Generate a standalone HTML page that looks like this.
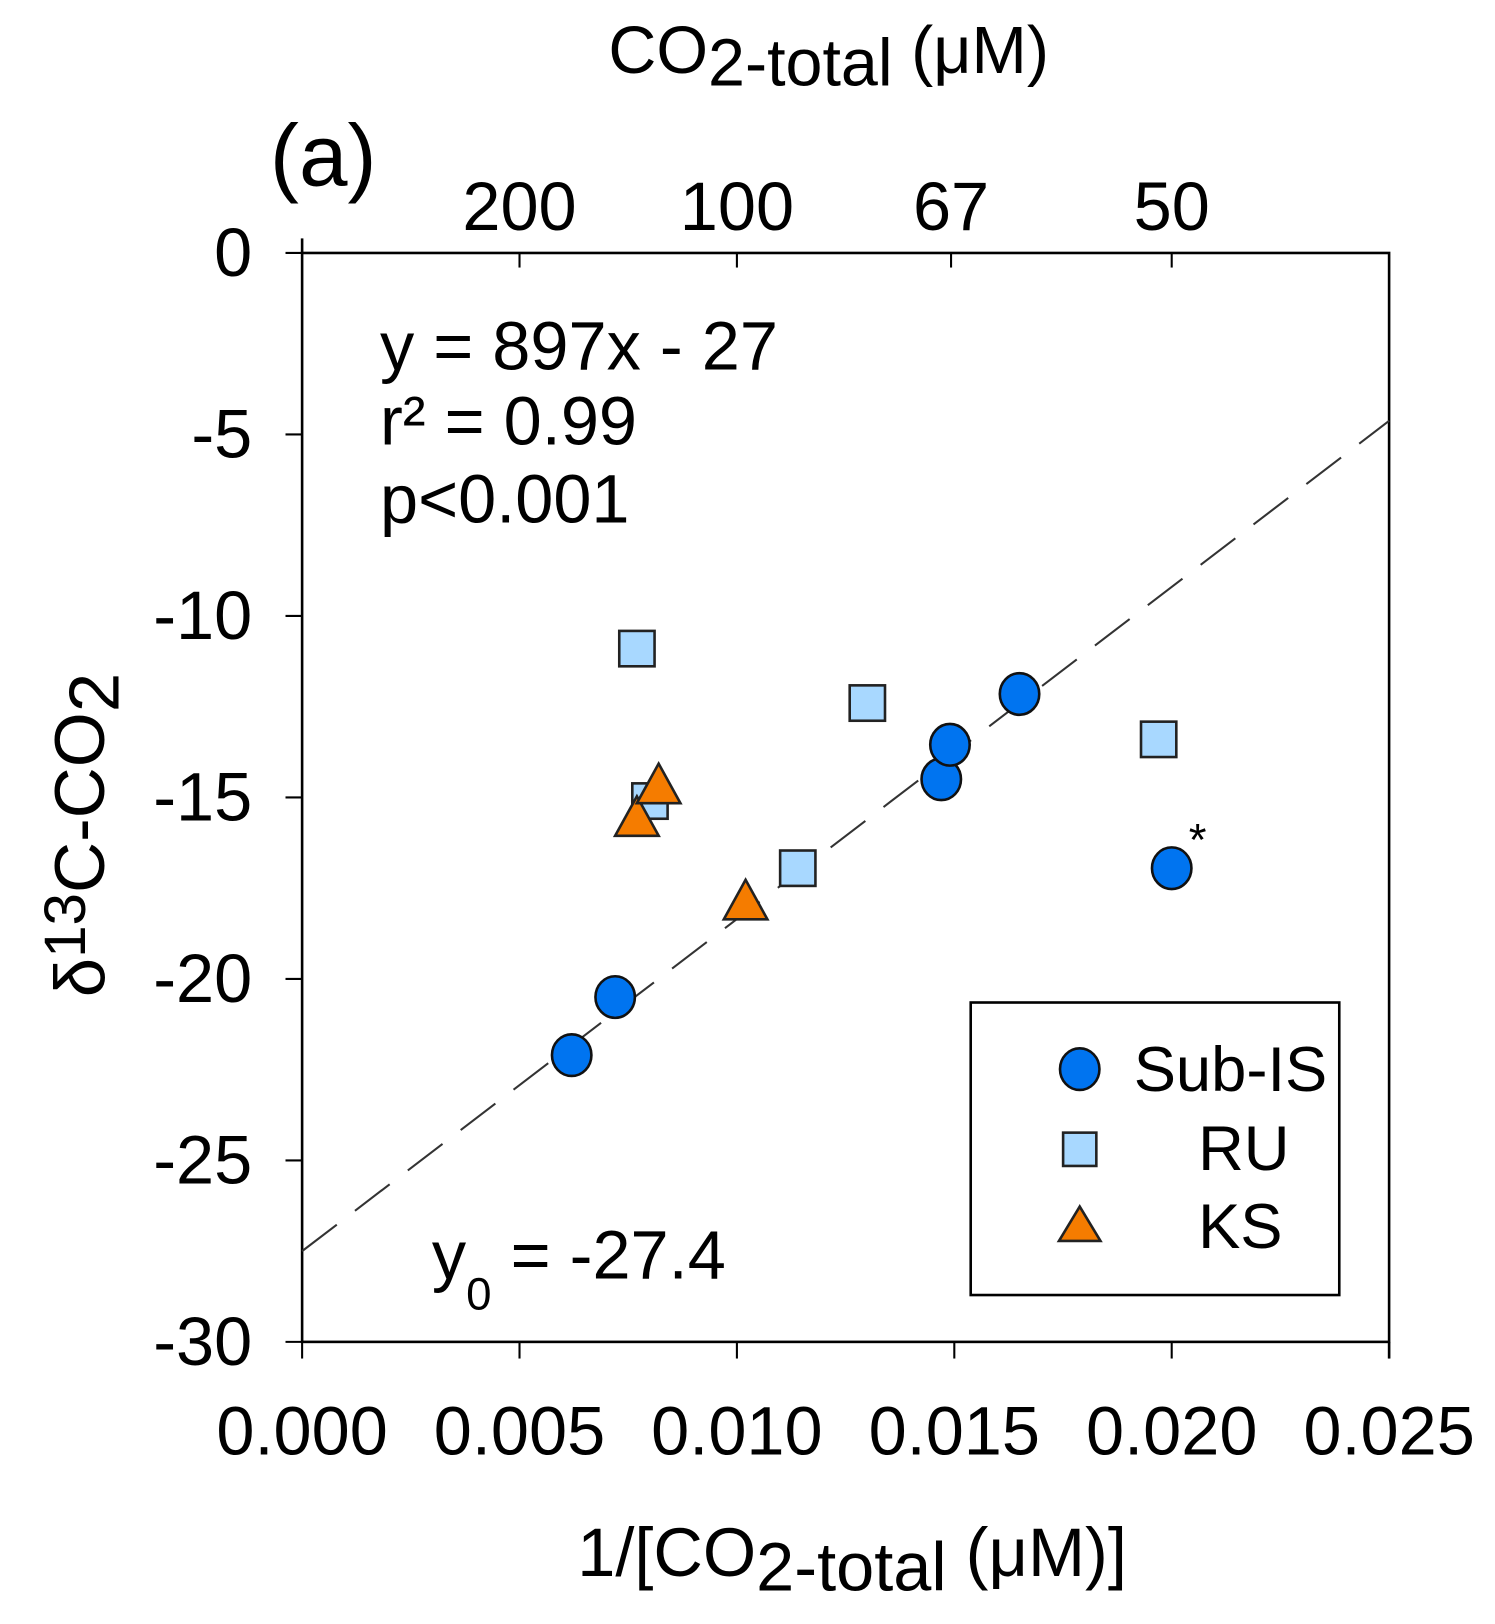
<!DOCTYPE html>
<html><head><meta charset="utf-8"><style>
html,body{margin:0;padding:0;background:#fff;}
svg{display:block;font-family:"Liberation Sans",sans-serif;}
</style></head><body>
<svg id="chart" width="1495" height="1624" viewBox="0 0 1440 1560" preserveAspectRatio="none" xmlns="http://www.w3.org/2000/svg">
<g id="axes"></g>
<g id="marks"></g>
</svg>
<script>
const xTicks = [0, 0.005, 0.010, 0.015, 0.020, 0.025];
const xTickLabels = ["0.000","0.005","0.010","0.015","0.020","0.025"];
const yTicks = [0, -5, -10, -15, -20, -25, -30];
const yTickLabels = ["0","-5","-10","-15","-20","-25","-30"];
const topTickConc = [200, 100, 67, 50];
const topTickLabels = ["200","100","67","50"];
const subX = [0.0062, 0.0072, 0.0147, 0.0149, 0.0165, 0.0200];
const subY = [-22.1, -20.5, -14.5, -13.55, -12.15, -16.95];
const ruX = [0.0077, 0.0080, 0.0130, 0.0114, 0.0197];
const ruY = [-10.9, -15.1, -12.4, -16.95, -13.4];
const ksX = [0.0077, 0.0082, 0.0102];
const ksY = [-15.6, -14.7, -17.9];
const fitSlope = [915];
const fitIntercept = [-27.5];

const NS = "http://www.w3.org/2000/svg";
const X0=291, X1=1338, Y0=243, Y1=1289;
const sx = v => X0 + (v-0)/(0.025)*(X1-X0);
const sy = v => Y0 + (0-v)/30*(Y1-Y0);
const axes = document.getElementById('axes');
const marks = document.getElementById('marks');
function mk(tag, attrs, parent, text){
  const e=document.createElementNS(NS,tag);
  for(const k in attrs) e.setAttribute(k,attrs[k]);
  if(text!==undefined) e.textContent=text;
  parent.appendChild(e); return e;
}
let fr = mk('rect',{x:X0,y:Y0,width:X1-X0,height:Y1-Y0,fill:'none',stroke:'#000','stroke-width':2.5},axes);


let le = mk('line',{x1:X0,x2:X0,y1:Y0-14,y2:Y0,stroke:'#000','stroke-width':2.5},axes);


let re = mk('line',{x1:X1,x2:X1,y1:Y1,y2:Y1+16,stroke:'#000','stroke-width':2.5},axes);


xTicks.forEach((t,i)=>{
  let l=mk('line',{x1:sx(t),x2:sx(t),y1:Y1,y2:Y1+16,stroke:'#000','stroke-width':2},axes);
  
  
  let tx=mk('text',{x:sx(t),y:Y1+108,'font-size':66,'text-anchor':'middle'},axes,xTickLabels[i]);
  
  
});
yTicks.forEach((t,i)=>{
  let l=mk('line',{x1:X0-16,x2:X0,y1:sy(t),y2:sy(t),stroke:'#000','stroke-width':2},axes);
  
  
  let tx=mk('text',{x:X0-48,y:sy(t)+22,'font-size':66,'text-anchor':'end'},axes,yTickLabels[i]);
  
  
});
topTickConc.forEach((c,i)=>{
  const v=1/c;
  let l=mk('line',{x1:sx(v),x2:sx(v),y1:Y0,y2:Y0+14,stroke:'#000','stroke-width':2},axes);
  
  
  let tx=mk('text',{x:sx(v),y:Y0-22,'font-size':66,'text-anchor':'middle'},axes,topTickLabels[i]);
  
  
});
const fx0=0, fx1=0.025;
let fl=mk('line',{x1:sx(fx0),y1:sy(fitSlope[0]*fx0+fitIntercept[0]),x2:sx(fx1),y2:sy(fitSlope[0]*fx1+fitIntercept[0]),stroke:'#333','stroke-width':2,'stroke-dasharray':'42,22'},marks);


ruX.forEach((x,i)=>{
  let r=mk('rect',{x:sx(x)-17,y:sy(ruY[i])-17,width:34,height:34,fill:'#a8d8ff',stroke:'#222','stroke-width':2.5},marks);
  
  
});
ksX.forEach((x,i)=>{
  const cx=sx(x), cy=sy(ksY[i]);
  let p=mk('polygon',{points:`${cx},${cy-22} ${cx-21},${cy+16} ${cx+21},${cy+16}`,fill:'#f57c00',stroke:'#222','stroke-width':2.5},marks);
  
  
});
subX.forEach((x,i)=>{
  let c=mk('ellipse',{cx:sx(x),cy:sy(subY[i]),rx:19,ry:20,fill:'#0074f0',stroke:'#111','stroke-width':2.5},marks);
  
  
});
</script>
<svg style="position:absolute;left:0;top:0" width="1495" height="1624" viewBox="0 0 1440 1560" preserveAspectRatio="none" xmlns="http://www.w3.org/2000/svg" font-family="Liberation Sans, sans-serif">
<text x="1145" y="822" font-size="44">*</text>
<text x="260" y="178" font-size="84">(a)</text>
<text x="586" y="70" font-size="64">CO<tspan dy="12">2-total</tspan><tspan dy="-12"> (μM)</tspan></text>
<text x="556" y="1514" font-size="66">1/[CO<tspan dy="14">2-total</tspan><tspan dy="-14"> (μM)]</tspan></text>
<text transform="translate(100,958) rotate(-90)" font-size="68">δ<tspan dy="-18" font-size="56">13</tspan><tspan dy="18">C-CO</tspan><tspan dy="14">2</tspan></text>
<text x="366" y="355" font-size="66">y = 897x - 27</text>
<text x="366" y="427" font-size="66">r² = 0.99</text>
<text x="366" y="502" font-size="66">p&lt;0.001</text>
<text x="416" y="1228" font-size="66">y<tspan dy="30" font-size="44">0</tspan><tspan dy="-30"> = -27.4</tspan></text>
<g>
<rect x="935" y="963" width="355" height="281" fill="#fff" stroke="#000" stroke-width="2.5"/>
<ellipse cx="1040" cy="1027" rx="19" ry="20" fill="#0074f0" stroke="#111" stroke-width="2.5"/>
<text x="1092" y="1048" font-size="61">Sub-IS</text>
<rect x="1024" y="1088" width="32" height="32" fill="#a8d8ff" stroke="#222" stroke-width="2.5"/>
<text x="1154" y="1124" font-size="61">RU</text>
<polygon points="1040,1159 1020,1192 1060,1192" fill="#f57c00" stroke="#222" stroke-width="2.5"/>
<text x="1154" y="1199" font-size="61">KS</text>
</g>
</svg>
</body></html>
